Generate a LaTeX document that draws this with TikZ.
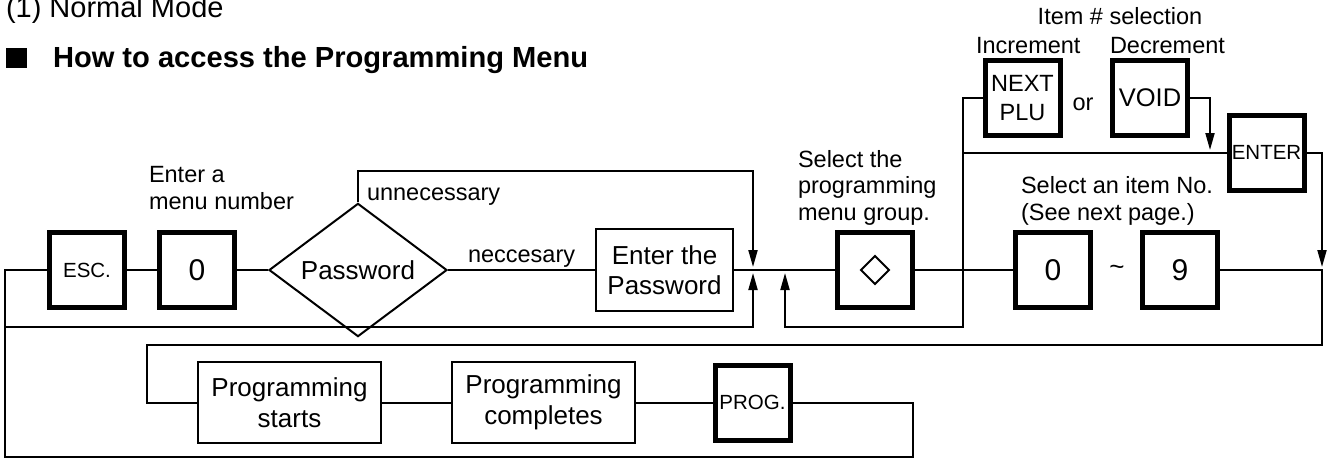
\documentclass[tikz,border=0pt]{standalone}
\usepackage{fontspec}
\setmainfont{Liberation Sans}
\usetikzlibrary{shapes.geometric,arrows.meta}
\begin{document}
\begin{tikzpicture}[x=1pt,y=-1pt,
  line width=2pt, line join=miter,
  keybox/.style={draw, line width=5pt, minimum width=75pt, minimum height=75pt, inner sep=0pt, align=center, font=\fontsize{26}{31}\selectfont},
  digitkey/.style={keybox, font=\fontsize{30}{34}\selectfont},
  smallkey/.style={keybox, font=\fontsize{20.5}{24}\selectfont},
  stepbox/.style={draw, line width=2pt, inner sep=0pt, align=center, font=\fontsize{26}{30.5}\selectfont},
  lbl/.style={inner sep=0pt, align=left, anchor=base west, font=\fontsize{23.5}{26.5}\selectfont},
  arr/.style={-{Triangle[length=17pt,width=9pt]}}
]
\useasboundingbox (0,0) rectangle (1327,459);

% headings
\node[inner sep=0pt, anchor=base west, font=\fontsize{29}{34}\selectfont] (title) at (5,17) {(1) Normal Mode};
\node[fill, minimum width=21pt, minimum height=20pt, inner sep=0pt] (sq) at (16.5,58) {};
\node[inner sep=0pt, anchor=base west, font=\bfseries\fontsize{29.1}{34}\selectfont] (head) at (52,67.5) {How to access the Programming Menu};

% key boxes and steps
\node[smallkey] (esc) at (87,270) {ESC.};
\node[digitkey] (k0) at (197,270) {0};
\node[draw, shape=diamond, minimum width=178pt, minimum height=94pt, inner sep=0pt, font=\fontsize{26}{31}\selectfont] (pw) at (358,270) {Password};
\node[stepbox, minimum width=137pt, minimum height=82pt] (epw) at (664.5,270) {Enter the\\Password};
\node[keybox] (grp) at (875,270) {};
\node[digitkey] (d0) at (1053,270) {0};
\node[inner sep=0pt, font=\fontsize{26}{31}\selectfont] (tilde) at (1117,270) {\textasciitilde};
\node[digitkey] (d9) at (1180,270) {9};
\node[keybox, font=\fontsize{23.5}{29}\selectfont] (next) at (1022.5,98) {NEXT\\PLU};
\node[inner sep=0pt, font=\fontsize{23.5}{28}\selectfont] (or) at (1083,104) {or};
\node[keybox, font=\fontsize{25.5}{30}\selectfont] (void) at (1150,98) {VOID};
\node[smallkey] (enter) at (1266.5,152.5) {ENTER};
\node[stepbox, minimum width=183pt, minimum height=81pt] (ps) at (289.5,402.5) {Programming\\starts};
\node[stepbox, minimum width=183pt, minimum height=81pt] (pc) at (543.5,402.5) {Programming\\completes};
\node[smallkey] (prog) at (752.5,402.5) {PROG.};

% diamond symbol on the group key
\draw (grp.center) +(-14,0) -- +(0,-14) -- +(14,0) -- +(0,14) -- cycle;

% labels (base anchor = baseline of last line)
\node[lbl] (lmenu) at (148,209) {Enter a\\menu number};
\node[lbl] (lunn) at (366,200) {unnecessary};
\node[lbl] (lnec) at (467,262) {neccesary};
\node[lbl] (lgrp) at (797,220) {Select the\\programming\\menu group.};
\node[lbl] (litem) at (1020,220) {Select an item No.\\(See next page.)};
\node[lbl, anchor=base] (lsel) at (1120,24) {Item \# selection};
\node[lbl] (linc) at (975,53) {Increment};
\node[lbl] (ldec) at (1109,53) {Decrement};

% junction coordinates
\coordinate (cl) at (5,270);
\coordinate (cb) at (5,457);
\coordinate (cbr) at (913,457);
\coordinate (cpr) at (913,402.5);
\coordinate (ctop) at (753,171);
\coordinate (ja1) at (753,267);
\coordinate (cl2) at (5,327);
\coordinate (cm2) at (753,327);
\coordinate (ja2) at (753,273);
\coordinate (cn) at (963,98);
\coordinate (cn2) at (963,327);
\coordinate (cm3) at (785,327);
\coordinate (ja3) at (785,273);
\coordinate (ce) at (963,152.5);
\coordinate (cv) at (1210,98);
\coordinate (jv) at (1210,150);
\coordinate (cr) at (1322,270);
\coordinate (cr2) at (1322,345);
\coordinate (cl3) at (147,345);
\coordinate (cl4) at (147,402.5);
\coordinate (cer) at (1322,152.5);
\coordinate (jr) at (1322,267);

% connectors
\draw (esc.west) -- (cl) -- (cb) -- (cbr) -- (cpr) -- (prog.east);
\draw (esc) -- (k0);
\draw (k0) -- (pw);
\draw (pw) -- (epw);
\draw (epw) -- (grp);
\draw[arr] (pw.north) -- (pw.north |- ctop) -- (ctop) -- (ja1);
\draw[arr] (cl2) -- (cm2) -- (ja2);
\draw[arr] (next.west) -- (cn) -- (cn2) -- (cm3) -- (ja3);
\draw (ce) -- (enter.west);
\draw[arr] (void.east) -- (cv) -- (jv);
\draw (grp) -- (d0);
\draw (d9.east) -- (cr) -- (cr2) -- (cl3) -- (cl4) -- (ps.west);
\draw[arr] (enter.east) -- (cer) -- (jr);
\draw (ps) -- (pc);
\draw (pc) -- (prog);
\end{tikzpicture}
\end{document}
